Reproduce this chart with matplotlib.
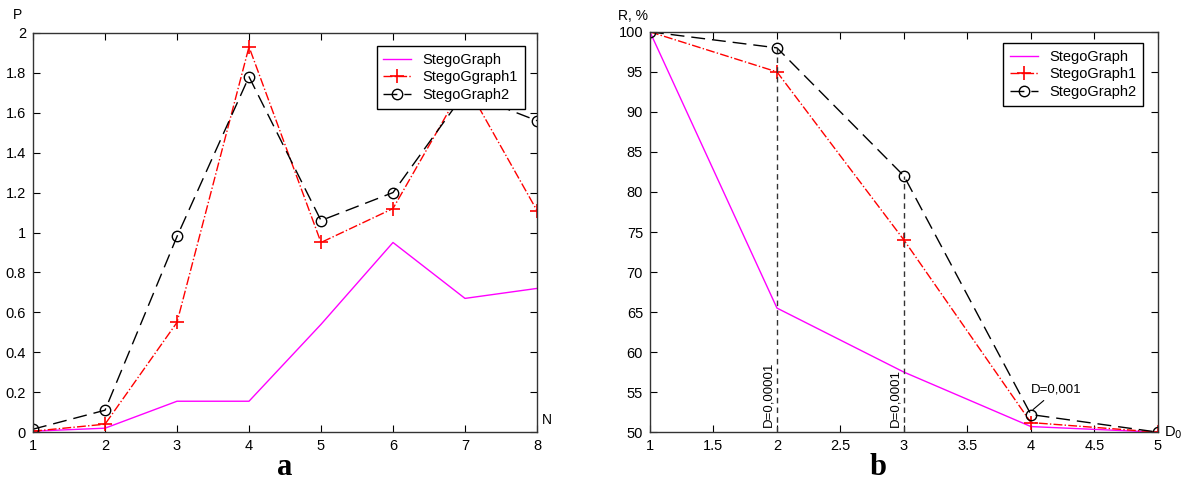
import numpy as np
import matplotlib
matplotlib.use('Agg')
import matplotlib.pyplot as plt

plt.rcParams['font.family'] = ['Liberation Sans', 'DejaVu Sans']

# ---- data, panel a
n_vals = [1, 2, 3, 4, 5, 6, 7, 8]
p_sg = [0.005, 0.02, 0.155, 0.155, 0.54, 0.95, 0.67, 0.72]
p_sg1 = [0.005, 0.04, 0.55, 1.93, 0.95, 1.12, 1.75, 1.11]
p_sg2 = [0.015, 0.11, 0.98, 1.78, 1.06, 1.20, 1.70, 1.56]

# ---- data, panel b
d_vals = [1, 2, 3, 4, 5]
r_sg = [100, 65.5, 57.5, 50.7, 50]
r_sg1 = [100, 95, 74, 51.2, 50]
r_sg2 = [100, 98, 82, 52.2, 50]
vline_x = [2, 3]
vline_top = [98, 82]
vline_text = ['D=0,00001', 'D=0,0001']

MAG = '#ff00ff'


def style_axes(ax):
    ax.tick_params(direction='in', top=True, right=True, length=5,
                   labelsize=10.5, pad=5)
    for s in ax.spines.values():
        s.set_linewidth(1.0)
        s.set_color('#333333')


fig = plt.figure(figsize=(11.88, 4.9), dpi=100)
ax1 = fig.add_axes([0.0278, 0.118, 0.4242, 0.815])
ax2 = fig.add_axes([0.5471, 0.118, 0.4276, 0.817])

# panel a
ax1.plot(n_vals, p_sg, color=MAG, lw=1.0, label='StegoGraph')
ax1.plot(n_vals, p_sg1, color='red', lw=1.0, ls='-.', marker='+', ms=10,
         mew=1.2, label='StegoGgraph1')
ax1.plot(n_vals, p_sg2, color='black', lw=1.0, ls=(0, (10, 5)), marker='o',
         ms=7.5, mfc='none', mew=1.0, label='StegoGraph2')
ax1.set_xlim(1, 8)
ax1.set_ylim(0, 2)
ax1.set_xticks(n_vals)
ax1.set_yticks(np.arange(0, 2.01, 0.2))
ax1.set_yticklabels(['0', '0.2', '0.4', '0.6', '0.8', '1', '1.2', '1.4',
                     '1.6', '1.8', '2'])
style_axes(ax1)
ax1.text(-0.03, 1.035, 'P', transform=ax1.transAxes, fontsize=10, ha='center')
ax1.text(1.01, 0.02, 'N', transform=ax1.transAxes, fontsize=10, ha='left')
leg1 = ax1.legend(loc='upper right', fontsize=10.5, frameon=True, fancybox=False,
                  edgecolor='black', borderpad=0.45, labelspacing=0.25,
                  handlelength=1.9, framealpha=1,
                  bbox_to_anchor=(0.99, 0.985))
leg1.get_frame().set_linewidth(1.0)

# panel b
ax2.plot(d_vals, r_sg, color=MAG, lw=1.0, label='StegoGraph')
ax2.plot(d_vals, r_sg1, color='red', lw=1.0, ls='-.', marker='+', ms=10,
         mew=1.2, label='StegoGraph1')
ax2.plot(d_vals, r_sg2, color='black', lw=1.0, ls=(0, (10, 5)), marker='o',
         ms=7.5, mfc='none', mew=1.0, label='StegoGraph2')
for xv, top, txt in zip(vline_x, vline_top, vline_text):
    ax2.plot([xv, xv], [50, top], color='#333333', lw=1.0, ls=(0, (4, 3)))
    ax2.text(xv - 0.02, 50.6, txt, rotation=90, ha='right', va='bottom',
             fontsize=9.5)
ax2.annotate('D=0,001', xy=(4, 52.6), xytext=(4.0, 54.9), fontsize=9.5,
             arrowprops=dict(arrowstyle='-', color='black', lw=0.8))
ax2.set_xlim(1, 5)
ax2.set_ylim(50, 100)
ax2.set_xticks(np.arange(1, 5.01, 0.5))
ax2.set_xticklabels(['1', '1.5', '2', '2.5', '3', '3.5', '4', '4.5', '5'])
ax2.set_yticks(np.arange(50, 101, 5))
style_axes(ax2)
ax2.text(-0.062, 1.03, 'R, %', transform=ax2.transAxes, fontsize=10, ha='left')
ax2.text(1.012, 0.0, 'D$_0$', transform=ax2.transAxes, fontsize=10.5,
         ha='left', va='center')
leg2 = ax2.legend(loc='upper right', fontsize=10.5, frameon=True, fancybox=False,
                  edgecolor='black', borderpad=0.45, labelspacing=0.25,
                  handlelength=1.9, framealpha=1,
                  bbox_to_anchor=(0.985, 0.99))
leg2.get_frame().set_linewidth(1.0)

fig.text(285 / 1188, 1 - 467 / 490, 'a', fontsize=22, fontweight='bold',
         family='Liberation Serif', ha='center', va='center')
fig.text(878 / 1188, 1 - 467 / 490, 'b', fontsize=22, fontweight='bold',
         family='Liberation Serif', ha='center', va='center')

fig.savefig('out.png', dpi=100)
